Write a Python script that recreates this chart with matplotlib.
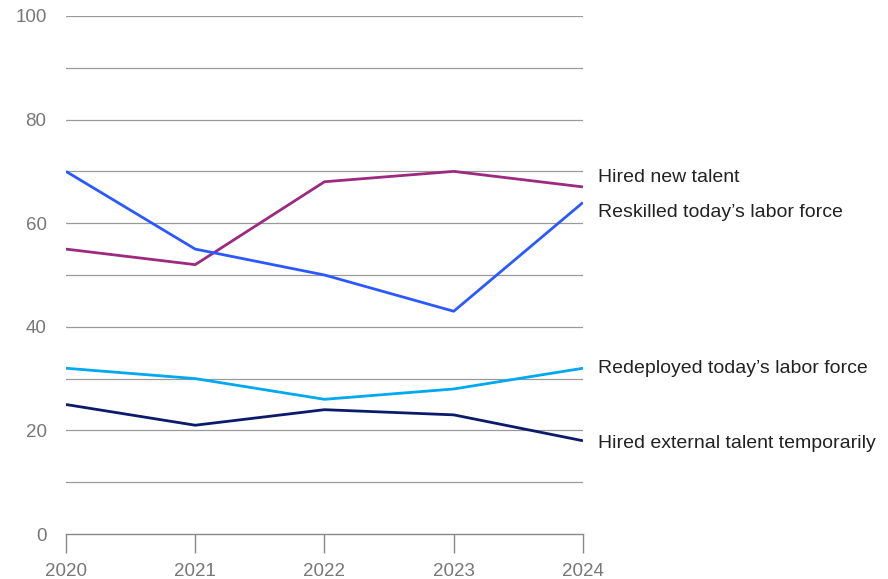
import matplotlib
matplotlib.use("Agg")
import matplotlib.pyplot as plt

years = [2020, 2021, 2022, 2023, 2024]
hired_new = [55, 52, 68, 70, 67]
reskilled = [70, 55, 50, 43, 64]
redeployed = [32, 30, 26, 28, 32]
hired_temp = [25, 21, 24, 23, 18]

series = [
    ("Hired new talent", hired_new, "#9C2A80", 68.9),
    ("Reskilled today\u2019s labor force", reskilled, "#2B59FF", 62.1),
    ("Redeployed today\u2019s labor force", redeployed, "#00A8F0", 32.0),
    ("Hired external talent temporarily", hired_temp, "#0B1A6B", 17.5),
]

plt.rcParams['font.family'] = ['Liberation Sans', 'DejaVu Sans']

fig = plt.figure(figsize=(8.88, 5.79), dpi=100)
ax = fig.add_axes([0.0743, 0.0777, 0.5822, 0.8947])

for y in range(10, 101, 10):
    ax.axhline(y, color="#9a9a9a", lw=0.9, zorder=1)

for name, vals, col, ylab in series:
    ax.plot(years, vals, color=col, lw=2, zorder=3, solid_capstyle="butt")
    ax.text(2024.12, ylab, name, fontsize=14, color="#222222",
            va="center", ha="left", clip_on=False)

ax.set_xlim(2020, 2024)
ax.set_ylim(0, 100)
ax.set_yticks([0, 20, 40, 60, 80, 100])
ax.set_xticks(years)
for s in ["top", "right", "left"]:
    ax.spines[s].set_visible(False)
ax.spines["bottom"].set_color("#888888")
ax.spines["bottom"].set_linewidth(1)
ax.tick_params(axis="x", direction="out", length=13.7, width=1, color="#888888",
               labelcolor="#777777", labelsize=13.5, pad=7)
ax.tick_params(axis="y", length=0, labelcolor="#777777", labelsize=13.5, pad=14)

fig.savefig("out.png", dpi=100)
